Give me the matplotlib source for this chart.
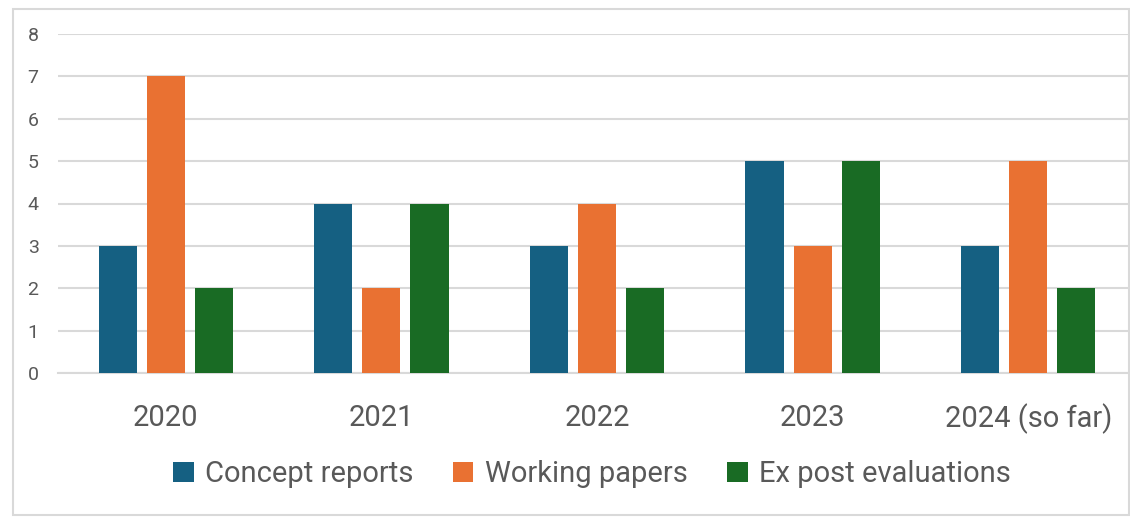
import numpy as np
import matplotlib
matplotlib.use("Agg")
from matplotlib import pyplot as plt
from matplotlib.patches import Rectangle

years = ["2020", "2021", "2022", "2023", "2024 (so far)"]
concept_reports = [3, 4, 3, 5, 3]
working_papers = [7, 2, 4, 3, 5]
ex_post_evaluations = [2, 4, 2, 5, 2]

series_names = ["Concept reports", "Working papers", "Ex post evaluations"]
colors = ["#156082", "#E97132", "#196B24"]
text_col = "#595959"
grid_col = "#D9D9D9"

plt.rcParams['font.family'] = ['Roboto', 'DejaVu Sans']

fig = plt.figure(figsize=(11.3, 5.17), dpi=100)
ax = fig.add_axes([58/1130, 1-373/517, 1078/1130, (373-34)/517])

x = np.arange(len(years))
w = 0.177
step = 0.223
for i, (vals, name, c) in enumerate(zip([concept_reports, working_papers, ex_post_evaluations], series_names, colors)):
    ax.bar(x + (i-1)*step, vals, width=w, color=c, label=name, zorder=3)

ax.set_xlim(-0.5, len(years)-0.5)
ax.set_ylim(0, 8)
ax.set_yticks(range(0, 9))
ax.set_xticks(x)
ax.set_xticklabels(years)
ax.grid(axis='y', color=grid_col, linewidth=1.5, zorder=0)
for s in ['top', 'right', 'left']:
    ax.spines[s].set_visible(False)
ax.spines['bottom'].set_color(grid_col)
ax.spines['bottom'].set_linewidth(1.5)
ax.tick_params(axis='x', length=0, pad=22, labelsize=21, labelcolor=text_col)
ax.tick_params(axis='y', length=0, pad=14, labelsize=14, labelcolor=text_col)

leg = fig.legend(loc='center', bbox_to_anchor=(0.524, 1-474/517), ncol=3, frameon=False,
                 fontsize=21, handlelength=0.7, handleheight=0.7, handletextpad=0.4,
                 columnspacing=1.35, labelcolor=text_col)

fig.patches.append(Rectangle((13/1130, 2/517), 1116/1130, 506/517, transform=fig.transFigure,
                             fill=False, edgecolor=grid_col, linewidth=1.5))

fig.savefig("out.png", dpi=100)
